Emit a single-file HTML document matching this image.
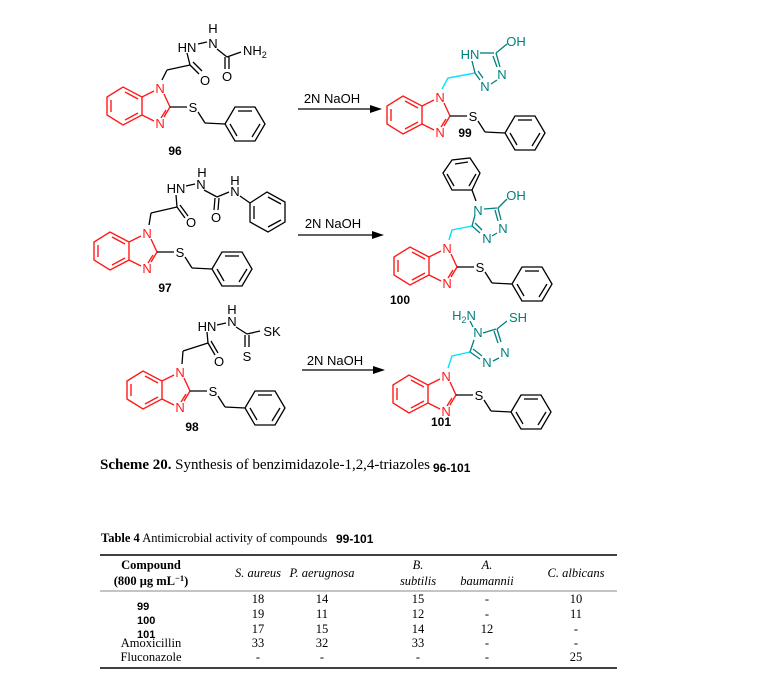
<!DOCTYPE html>
<html><head><meta charset="utf-8"><style>
html,body{margin:0;padding:0;background:#fff;width:777px;height:679px;overflow:hidden}
svg{display:block}
.t{font-family:"Liberation Sans",sans-serif;font-size:13px}
.lb{font-family:"Liberation Sans",sans-serif;font-size:12px;font-weight:bold;fill:#000}
.s{font-family:"Liberation Serif",serif;font-size:12.5px}
</style></head><body>
<svg width="777" height="679" viewBox="0 0 777 679" xmlns="http://www.w3.org/2000/svg">
<defs>
<g id="bim">
 <g stroke="#ff1a1a" stroke-width="1.4" fill="none">
  <polygon points="-53,9 -53,27 -37,37 -18,27 -18,9 -37,-1"/>
  <line x1="-49" y1="12" x2="-49" y2="24"/>
  <line x1="-35" y1="32" x2="-22" y2="25"/>
  <line x1="-22" y1="11" x2="-35" y2="4"/>
  <line x1="-18" y1="9" x2="-6" y2="3"/>
  <line x1="4" y1="6" x2="10" y2="19"/>
  <line x1="10" y1="19" x2="4" y2="29"/>
  <line x1="6" y1="22" x2="1" y2="30"/>
  <line x1="-6" y1="33" x2="-18" y2="27"/>
 </g>
 <text x="0" y="5" class="t" fill="#ff1a1a" text-anchor="middle">N</text>
 <text x="0" y="40" class="t" fill="#ff1a1a" text-anchor="middle">N</text>
 <g stroke="#000" stroke-width="1.3" fill="none">
  <line x1="10" y1="19" x2="27" y2="19"/>
  <line x1="38" y1="24" x2="45" y2="35"/>
  <line x1="45" y1="35" x2="65" y2="36"/>
  <polygon points="65,36 75,19 95,19 105,36 95,53 75,53"/>
  <line x1="78" y1="23" x2="92" y2="23"/>
  <line x1="100" y1="36" x2="92" y2="49"/>
  <line x1="70" y1="36" x2="77" y2="48"/>
 </g>
 <text x="33" y="24" class="t" text-anchor="middle">S</text>
</g>
</defs>

<!-- 96 -->
<use href="#bim" x="160" y="88"/>
<g stroke="#000" stroke-width="1.3" fill="none">
 <line x1="162" y1="80" x2="167" y2="70"/><line x1="167" y1="70" x2="190" y2="65"/>
 <line x1="190" y1="65" x2="199" y2="74"/><line x1="193" y1="62" x2="202" y2="71"/>
 <line x1="190" y1="65" x2="187" y2="53"/>
 <line x1="198" y1="44" x2="207" y2="42"/>
 <line x1="217" y1="49" x2="227" y2="57"/>
 <line x1="225" y1="57" x2="225" y2="69"/><line x1="229" y1="57" x2="229" y2="69"/>
 <line x1="227" y1="57" x2="241" y2="52"/>
</g>
<g class="t">
 <text x="187" y="52" text-anchor="middle">HN</text>
 <text x="213" y="48" text-anchor="middle">N</text>
 <text x="213" y="33" text-anchor="middle">H</text>
 <text x="205" y="85" text-anchor="middle">O</text>
 <text x="227" y="81" text-anchor="middle">O</text>
 <text x="243" y="55">NH<tspan font-size="9" dy="3">2</tspan></text>
</g>
<text x="175" y="155" class="lb" text-anchor="middle">96</text>

<!-- arrows -->
<g stroke="#000" stroke-width="1.3"><line x1="298" y1="109" x2="372" y2="109"/><line x1="298" y1="235" x2="374" y2="235"/><line x1="302" y1="370" x2="375" y2="370"/></g>
<polygon points="382,109 370,105 370,113"/><polygon points="384,235 372,231 372,239"/><polygon points="385,370 373,366 373,374"/>
<g class="t" text-anchor="middle"><text x="332" y="103">2N NaOH</text><text x="333" y="228">2N NaOH</text><text x="335" y="365">2N NaOH</text></g>

<!-- 99 -->
<use href="#bim" x="440" y="97"/>
<polyline points="442,89 448,78 475,73" stroke="#00e5ff" stroke-width="1.4" fill="none"/>
<g stroke="#008080" stroke-width="1.3" fill="none">
 <line x1="475" y1="73" x2="472" y2="61"/>
 <line x1="480" y1="53" x2="494" y2="53"/>
 <line x1="496" y1="53" x2="500" y2="67"/><line x1="493" y1="56" x2="497" y2="67"/>
 <line x1="496" y1="53" x2="507" y2="44"/>
 <line x1="497" y1="80" x2="491" y2="84"/>
 <line x1="475" y1="73" x2="480" y2="80"/><line x1="478" y1="71" x2="483" y2="78"/>
</g>
<g class="t" fill="#008080" text-anchor="middle">
 <text x="470" y="59">HN</text><text x="516" y="46">OH</text><text x="502" y="79">N</text><text x="485" y="91">N</text>
</g>
<text x="465" y="137" class="lb" text-anchor="middle">99</text>

<!-- 97 -->
<use href="#bim" x="147" y="233"/>
<g stroke="#000" stroke-width="1.3" fill="none">
 <line x1="149" y1="225" x2="151" y2="213"/><line x1="151" y1="213" x2="177" y2="207"/>
 <line x1="177" y1="207" x2="185" y2="218"/><line x1="180" y1="205" x2="188" y2="216"/>
 <line x1="177" y1="207" x2="176" y2="195"/><line x1="186" y1="186" x2="195" y2="184"/>
 <line x1="204" y1="190" x2="217" y2="197"/>
 <line x1="215" y1="198" x2="214" y2="210"/><line x1="219" y1="198" x2="218" y2="210"/>
 <line x1="217" y1="197" x2="229" y2="192"/><line x1="240" y1="196" x2="250" y2="203"/>
 <polygon points="250,203 267,192 285,202 285,222 268,232 250,222"/>
 <line x1="268" y1="197" x2="281" y2="204"/><line x1="281" y1="220" x2="268" y2="227"/><line x1="254" y1="206" x2="254" y2="219"/>
</g>
<g class="t" text-anchor="middle">
 <text x="176" y="193">HN</text><text x="201" y="189">N</text><text x="202" y="177">H</text>
 <text x="191" y="227">O</text><text x="216" y="222">O</text><text x="235" y="196">N</text><text x="235" y="185">H</text>
</g>
<text x="165" y="292" class="lb" text-anchor="middle">97</text>

<!-- 100 -->
<use href="#bim" x="447" y="248"/>
<polyline points="449,240 452,230 472,226" stroke="#00e5ff" stroke-width="1.4" fill="none"/>
<g stroke="#000" stroke-width="1.3" fill="none">
 <polygon points="443,173 452,160 470,158 480,173 472,190 452,190"/>
 <line x1="455" y1="164" x2="468" y2="162"/><line x1="476" y1="174" x2="469" y2="186"/><line x1="447" y1="174" x2="454" y2="186"/>
 <line x1="472" y1="190" x2="476" y2="201"/>
</g>
<g stroke="#008080" stroke-width="1.3" fill="none">
 <line x1="472" y1="226" x2="475" y2="215"/><line x1="472" y1="226" x2="480" y2="233"/><line x1="475" y1="223" x2="482" y2="230"/>
 <line x1="484" y1="209" x2="497" y2="208"/><line x1="498" y1="208" x2="501" y2="220"/><line x1="495" y1="210" x2="498" y2="221"/>
 <line x1="498" y1="208" x2="507" y2="199"/><line x1="497" y1="233" x2="492" y2="236"/>
</g>
<g class="t" fill="#008080" text-anchor="middle">
 <text x="478" y="215">N</text><text x="516" y="200">OH</text><text x="503" y="233">N</text><text x="487" y="243">N</text>
</g>
<text x="400" y="304" class="lb" text-anchor="middle">100</text>

<!-- 98 -->
<use href="#bim" x="180" y="372"/>
<g stroke="#000" stroke-width="1.3" fill="none">
 <line x1="182" y1="364" x2="183" y2="351"/><line x1="183" y1="351" x2="208" y2="343"/>
 <line x1="208" y1="343" x2="215" y2="355"/><line x1="211" y1="341" x2="218" y2="353"/>
 <line x1="208" y1="343" x2="207" y2="332"/><line x1="217" y1="325" x2="226" y2="323"/>
 <line x1="236" y1="327" x2="247" y2="334"/>
 <line x1="245" y1="335" x2="245" y2="347"/><line x1="249" y1="335" x2="249" y2="347"/>
 <line x1="247" y1="334" x2="260" y2="331"/>
</g>
<g class="t" text-anchor="middle">
 <text x="207" y="331">HN</text><text x="232" y="326">N</text><text x="232" y="314">H</text>
 <text x="219" y="366">O</text><text x="247" y="361">S</text><text x="272" y="336">SK</text>
</g>
<text x="192" y="431" class="lb" text-anchor="middle">98</text>

<!-- 101 -->
<use href="#bim" x="446" y="376"/>
<polyline points="448,368 452,356 470,352" stroke="#00e5ff" stroke-width="1.4" fill="none"/>
<g stroke="#008080" stroke-width="1.3" fill="none">
 <line x1="470" y1="352" x2="474" y2="340"/><line x1="470" y1="352" x2="480" y2="359"/><line x1="473" y1="349" x2="482" y2="356"/>
 <line x1="483" y1="333" x2="496" y2="329"/><line x1="497" y1="329" x2="501" y2="342"/><line x1="494" y1="331" x2="498" y2="343"/>
 <line x1="497" y1="329" x2="507" y2="321"/><line x1="473" y1="327" x2="470" y2="321"/><line x1="499" y1="358" x2="493" y2="361"/>
</g>
<g class="t" fill="#008080" text-anchor="middle">
 <text x="478" y="337">N</text><text x="464" y="320">H<tspan font-size="9" dy="3">2</tspan><tspan dy="-3">N</tspan></text>
 <text x="518" y="322">SH</text><text x="505" y="357">N</text><text x="487" y="367">N</text>
</g>
<text x="441" y="426" class="lb" text-anchor="middle">101</text>

<!-- caption -->
<text x="100" y="469" font-family="Liberation Serif,serif" font-size="15" textLength="330"><tspan font-weight="bold">Scheme 20.</tspan> Synthesis of benzimidazole-1,2,4-triazoles</text>
<text x="433" y="472" class="lb" font-size="12.5">96-101</text>

<!-- table -->
<text x="101" y="542" class="s" font-size="12"><tspan font-weight="bold">Table 4</tspan>  Antimicrobial activity of compounds</text>
<text x="336" y="543" class="lb" font-size="12">99-101</text>
<line x1="100" y1="555" x2="617" y2="555" stroke="#000" stroke-width="1.5"/>
<line x1="100" y1="591" x2="617" y2="591" stroke="#888" stroke-width="1"/>
<line x1="100" y1="668" x2="617" y2="668" stroke="#000" stroke-width="1.5"/>
<g class="s" text-anchor="middle">
 <text x="151" y="569" font-weight="bold">Compound</text>
 <text x="151" y="585" font-weight="bold">(800 μg mL<tspan font-size="8.5" dy="-4">−1</tspan><tspan dy="4">)</tspan></text>
 <g font-style="italic">
 <text x="258" y="577">S. aureus</text><text x="322" y="577">P. aerugnosa</text>
 <text x="418" y="569">B.</text><text x="418" y="585">subtilis</text>
 <text x="487" y="569">A.</text><text x="487" y="585">baumannii</text>
 <text x="576" y="577">C. albicans</text></g>
 <text x="258" y="603">18</text><text x="322" y="603">14</text><text x="418" y="603">15</text><text x="487" y="603">-</text><text x="576" y="603">10</text>
 <text x="258" y="618">19</text><text x="322" y="618">11</text><text x="418" y="618">12</text><text x="487" y="618">-</text><text x="576" y="618">11</text>
 <text x="258" y="633">17</text><text x="322" y="633">15</text><text x="418" y="633">14</text><text x="487" y="633">12</text><text x="576" y="633">-</text>
 <text x="151" y="647">Amoxicillin</text><text x="258" y="647">33</text><text x="322" y="647">32</text><text x="418" y="647">33</text><text x="487" y="647">-</text><text x="576" y="647">-</text>
 <text x="151" y="661">Fluconazole</text><text x="258" y="661">-</text><text x="322" y="661">-</text><text x="418" y="661">-</text><text x="487" y="661">-</text><text x="576" y="661">25</text>
</g>
<g font-family="Liberation Sans,sans-serif" font-size="11" font-weight="bold">
 <text x="137" y="610">99</text><text x="137" y="624">100</text><text x="137" y="638">101</text>
</g>
</svg>
</body></html>
